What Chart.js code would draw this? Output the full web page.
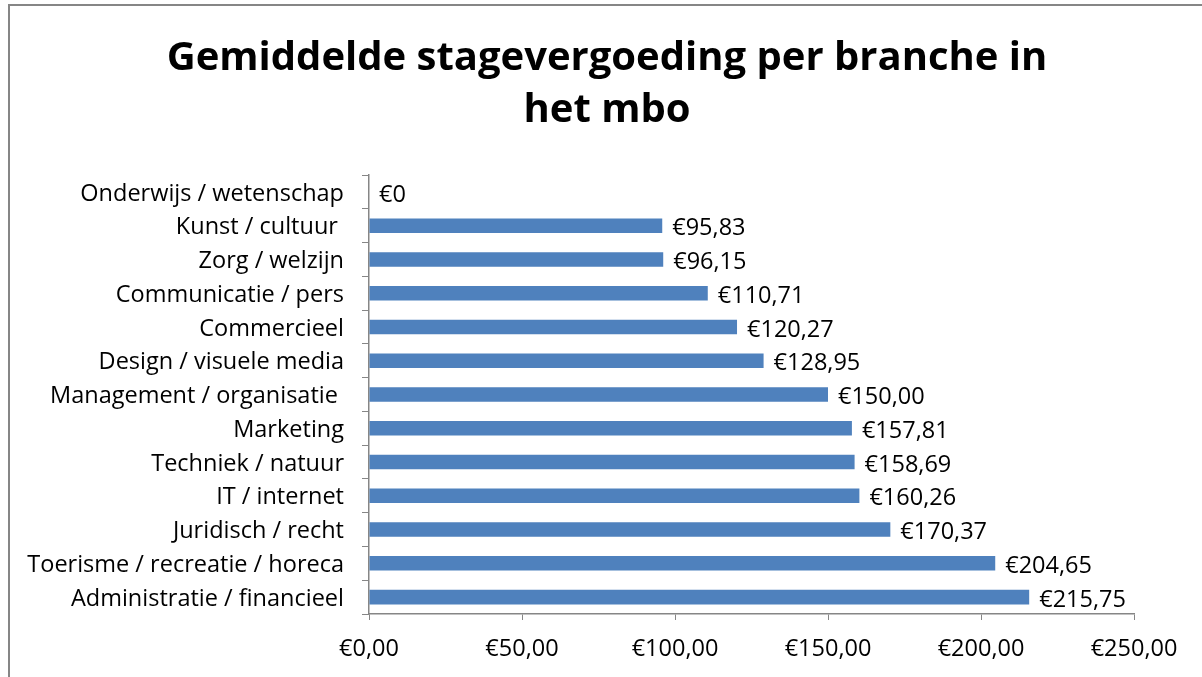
<!DOCTYPE html>
<html>
<head>
<meta charset="utf-8">
<script src="https://cdn.jsdelivr.net/npm/chart.js@4/dist/chart.umd.min.js"></script>
<style>
  html, body { margin: 0; padding: 0; background: #fff; overflow: hidden; }
  #wrap { position: relative; width: 1202px; height: 677px; }
  #chart { position: absolute; left: 0; top: 0; }
  #frame { position: absolute; left: 8px; top: 4px; width: 1300px; height: 800px;
           border: 2px solid #868686; box-sizing: border-box; pointer-events: none; }
</style>
</head>
<body>
<div id="wrap">
  <canvas id="chart" width="1202" height="677"></canvas>
  <div id="frame"></div>
</div>
<script>
// Данные
var branches = ['Onderwijs / wetenschap', 'Kunst / cultuur ', 'Zorg / welzijn', 'Communicatie / pers', 'Commercieel',
    'Design / visuele media', 'Management / organisatie ', 'Marketing', 'Techniek / natuur', 'IT / internet',
    'Juridisch / recht', 'Toerisme / recreatie / horeca', 'Administratie / financieel'];
var vergoeding = [0, 95.83, 96.15, 110.71, 120.27, 128.95, 150.00, 157.81, 158.69, 160.26, 170.37, 204.65, 215.75];
var valueLabels = ['€0', '€95,83', '€96,15', '€110,71', '€120,27', '€128,95', '€150,00', '€157,81', '€158,69',
    '€160,26', '€170,37', '€204,65', '€215,75'];
var titleLines = ['Gemiddelde stagevergoeding per branche in', 'het mbo'];

var FONT = "'Open Sans', Carlito, Calibri, sans-serif";
var FS = 23.5;

function euro(v) {
    return '€' + Number(v).toFixed(2).replace('.', ',');
}

// labels next to bars
var barLabels = {
    id: 'barLabels',
    afterDatasetsDraw: function (chart) {
        var c = chart.ctx;
        var meta = chart.getDatasetMeta(0);
        c.save();
        c.font = FS + 'px ' + FONT;
        c.fillStyle = '#000';
        c.textAlign = 'left';
        c.textBaseline = 'middle';
        meta.data.forEach(function (bar, i) {
            c.fillText(valueLabels[i], bar.x + 10, bar.y + 3);
        });
        c.restore();
    }
};

// title, centred on the frame rather than on the chart box
var chartTitle = {
    id: 'chartTitle',
    afterDraw: function (chart) {
        var c = chart.ctx;
        c.save();
        c.font = 'bold 40px ' + FONT;
        c.fillStyle = '#000';
        c.textAlign = 'center';
        c.textBaseline = 'middle';
        titleLines.forEach(function (t, i) {
            c.fillText(t, 607, 59 + i * 52);
        });
        c.restore();
    }
};

var ctx = document.getElementById('chart').getContext('2d');
var myChart = new Chart(ctx, {
    type: 'bar',
    data: {
        labels: branches,
        datasets: [{
            data: vergoeding,
            backgroundColor: '#4F81BD',
            borderWidth: 0,
            barPercentage: 0.43,
            categoryPercentage: 1
        }]
    },
    plugins: [barLabels, chartTitle],
    options: {
        indexAxis: 'y',
        responsive: false,
        animation: false,
        layout: { padding: { left: 0, right: 68, top: 175, bottom: 0 } },
        plugins: {
            legend: { display: false },
            tooltip: { enabled: false },
            title: { display: false }
        },
        scales: {
            x: {
                min: 0,
                max: 250,
                ticks: {
                    stepSize: 50,
                    color: '#000',
                    font: { family: FONT, size: FS },
                    padding: 15,
                    callback: function (v) { return euro(v); }
                },
                grid: { drawOnChartArea: false, drawTicks: true, tickLength: 6, color: '#868686' },
                border: { color: '#868686', width: 1.5 },
                afterFit: function (s) { s.height = 63; }
            },
            y: {
                ticks: {
                    color: '#000',
                    font: { family: FONT, size: FS },
                    padding: 18,
                    labelOffset: 2,
                    autoSkip: false
                },
                grid: { drawOnChartArea: false, drawTicks: true, tickLength: 7, offset: true, color: '#868686' },
                border: { color: '#868686', width: 1.5 },
                afterFit: function (s) { s.width = 369; }
            }
        }
    }
});
</script>
</body>
</html>
